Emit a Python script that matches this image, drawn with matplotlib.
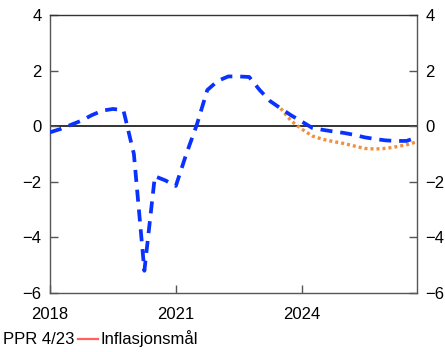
import numpy as np
import matplotlib
matplotlib.use('Agg')
import matplotlib.pyplot as plt
from matplotlib.lines import Line2D

plt.rcParams['font.family'] = ['Liberation Sans', 'DejaVu Sans']

#------------------------------------------------------------------------------
# quarterly positions 2018Q1 .. 2026Q4
quarters = np.arange(2018, 2027, 0.25)

ppr = [-0.22, -0.10, 0.05, 0.20, 0.40, 0.56, 0.62, 0.58,
       -1.00, -5.20, -1.80, -1.95, -2.15, -1.00, 0.05, 1.30,
       1.63, 1.79, 1.79, 1.77, 1.30, 0.90, 0.64, 0.39,
       0.17, -0.06, -0.13, -0.19, -0.24, -0.31, -0.40, -0.46,
       -0.51, -0.53, -0.53, -0.40]

alt_x = quarters[22:]
alt = [0.64, 0.19, -0.10, -0.35, -0.47, -0.55, -0.62, -0.71,
       -0.80, -0.82, -0.80, -0.74, -0.67, -0.56]

yticks = [-6, -4, -2, 0, 2, 4]
xticks = [2018, 2021, 2024]
legend_labels = ['PPR 4/23', 'Inflasjonsmål']

#------------------------------------------------------------------------------
fig = plt.figure(figsize=(4.45, 3.52), dpi=100)
ax = fig.add_axes([50/445, 1 - 293/352, 367/445, 278/352])

ax.axhline(0, color='#333333', lw=1.4, zorder=1)
ax.plot(alt_x, alt, color='#f0903c', lw=2.4, dashes=(0.9, 0.9), zorder=2)
ax.plot(quarters, ppr, color='#0a32ff', lw=2.7, dashes=(3.2, 2.1), zorder=3)

ax.set_xlim(2018, 2026.75)
ax.set_ylim(-6, 4)
ax.set_yticks(yticks)
ax.set_yticklabels([str(v).replace('-', '\u2212') for v in yticks])
ax.set_xticks(xticks)
ax.set_xticklabels([str(v) for v in xticks])

for s in ax.spines.values():
  s.set_color('#555555')
  s.set_linewidth(1.0)
ax.spines['top'].set_color('#333333')

ax.tick_params(axis='y', direction='in', length=6, width=1, color='#555555',
               labelsize=12, left=True, right=True, labelleft=True, labelright=True, pad=6)
ax.tick_params(axis='x', direction='in', length=6, width=1, color='#555555',
               labelsize=12, pad=10)

# legend row under the chart
fig.text(3/445, 1 - 339/352, legend_labels[0], fontsize=12, va='center', ha='left')
fig.add_artist(Line2D([78/445, 98/445], [1 - 339/352, 1 - 339/352],
                      color='#ff6060', lw=1.6, transform=fig.transFigure))
fig.text(101/445, 1 - 339/352, legend_labels[1], fontsize=12, va='center', ha='left')

fig.savefig('out.png', dpi=100)
